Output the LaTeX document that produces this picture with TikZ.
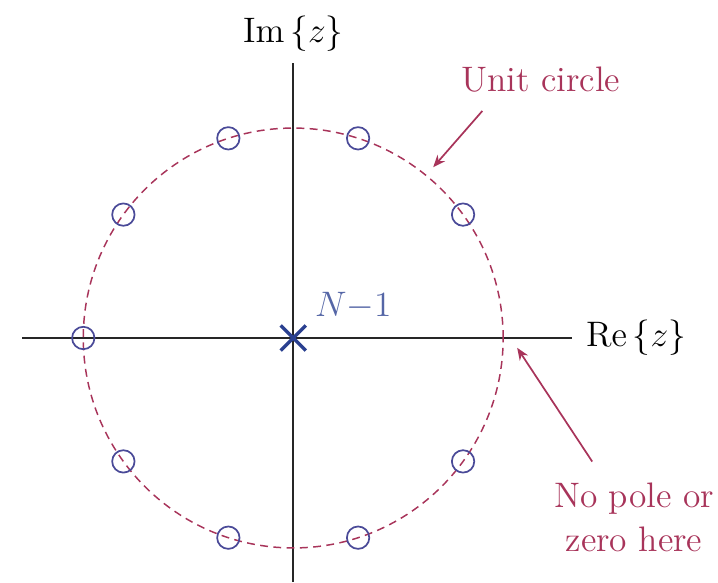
\documentclass[tikz,border=0pt]{standalone}
\usepackage{amsmath}
\usetikzlibrary{arrows.meta,positioning}
\definecolor{circred}{HTML}{A8345A}
\definecolor{zeroblue}{HTML}{4A4A98}
\definecolor{poleblue}{HTML}{2A4090}
\definecolor{axisgray}{HTML}{262626}

\begin{document}
\begin{tikzpicture}[
    axis/.style={axisgray,line width=0.8pt},
    unitc/.style={circred,line width=0.6pt,dash pattern=on 3.2pt off 2.2pt},
    zero/.style={zeroblue,line width=0.7pt},
    callout/.style={circred,line width=0.7pt,-{Stealth[length=5pt,width=4pt]}},
    lbl/.style={font=\Large}
  ]
  \useasboundingbox (-4.19,-3.49) rectangle (6.07,4.83);

  % Axes
  \coordinate (xl) at (-3.87,0);
  \coordinate (xr) at (3.99,0);
  \coordinate (yb) at (0,-3.49);
  \coordinate (yt) at (0,3.93);
  \draw[axis] (xl) -- (xr);
  \draw[axis] (yb) -- (yt);
  \node[lbl,right=2pt of xr] (re) {$\operatorname{Re}\left\{z\right\}$};
  \node[lbl,above=1pt of yt] (im) {$\operatorname{Im}\left\{z\right\}$};

  % Unit circle and zeros
  \draw[unitc] (0,0) circle (3);
  \foreach \k in {1,...,9}
    \draw[zero] (\k*36:3) circle (0.16);

  % Pole of order N-1 at the origin
  \coordinate (pole) at (0,0);
  \draw[poleblue,line width=1.4pt] ([shift={(-0.18,-0.18)}]pole) -- ([shift={(0.18,0.18)}]pole)
    ([shift={(-0.18,0.18)}]pole) -- ([shift={(0.18,-0.18)}]pole);
  \node[lbl,text=poleblue!80!white] (order) at (0.86,0.46) {$N{-}1$};

  % Labels and arrows
  \node[lbl,text=circred] (unit) at (3.54,3.69) {Unit circle};
  \coordinate (unittip) at (2.0,2.44);
  \draw[callout] ([xshift=12pt,yshift=-4pt]unit.south west) -- (unittip);

  \node[lbl,text=circred,align=center] (nopole) at (4.87,-2.56) {No pole or\\zero here};
  \coordinate (gaptip) at (3.2,-0.14);
  \draw[callout] ([xshift=-17pt,yshift=5pt]nopole.north) -- (gaptip);
\end{tikzpicture}
\end{document}
